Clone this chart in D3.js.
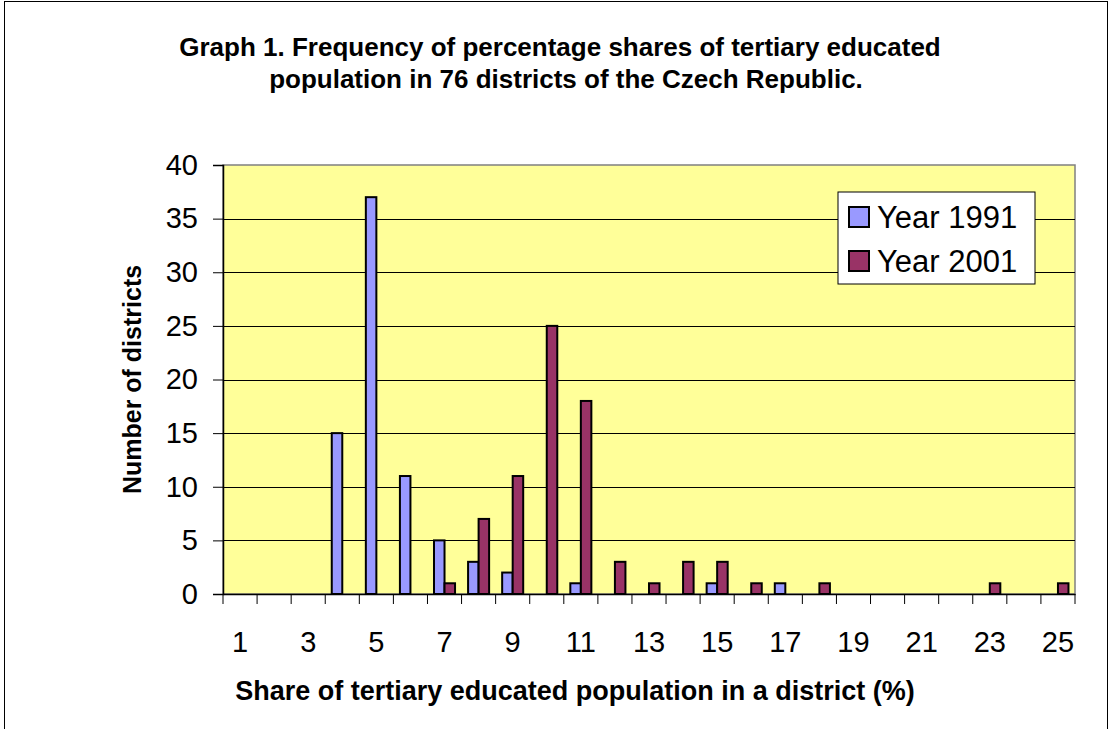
<!DOCTYPE html>
<meta charset="utf-8">
<style>
  body { margin: 0; background: #fff; }
  text { font-family: Arial, "Liberation Sans", sans-serif; }
</style>
<body>
<svg width="1113" height="729"></svg>
<script src="https://d3js.org/d3.v7.min.js"></script>
<script>

var shares = d3.range(1, 26);
var year1991 = [0,0,0,15,37,11,5,3,2,0,1,0,0,0,1,0,1,0,0,0,0,0,0,0,0];
var year2001 = [0,0,0,0,0,0,1,7,11,25,18,3,1,3,3,1,0,1,0,0,0,0,1,0,1];
var seriesNames = ["Year 1991", "Year 2001"];
var seriesColors = ["#9999ff", "#993366"];
var yTicks = [0,5,10,15,20,25,30,35,40];

var svg = d3.select("svg");

var margin = {left: 223, right: 1075, top: 165, bottom: 594};

// outer chart border
svg.append("rect")
    .attr("x", 4.5).attr("y", 1.5)
    .attr("width", 1103).attr("height", 740)
    .attr("fill", "none").attr("stroke", "#000").attr("stroke-width", 1);

var x = d3.scaleBand()
    .domain(shares)
    .range([margin.left, margin.right])
    .paddingInner(0).paddingOuter(0);

var inner = d3.scaleBand()
    .domain(seriesNames)
    .range([0, x.bandwidth()])
    .paddingOuter(0.62).paddingInner(0);

var y = d3.scaleLinear().domain([0, 40]).range([margin.bottom, margin.top]);

// plot area
svg.append("rect")
    .attr("x", margin.left).attr("y", margin.top)
    .attr("width", margin.right - margin.left).attr("height", margin.bottom - margin.top)
    .attr("fill", "#ffff99").attr("stroke", "#808080").attr("stroke-width", 1.5);

// gridlines
svg.append("g").selectAll("line")
  .data(yTicks.filter(d => d > 0 && d < 40))
  .enter().append("line")
    .attr("x1", margin.left).attr("x2", margin.right)
    .attr("y1", d => Math.round(y(d)) + 0.5).attr("y2", d => Math.round(y(d)) + 0.5)
    .attr("stroke", "#000").attr("stroke-width", 1);

// bars
var rows = shares.map((s, i) => ({share: s, values: [year1991[i], year2001[i]]}));

var groups = svg.append("g").selectAll("g")
  .data(rows)
  .enter().append("g")
    .attr("transform", d => "translate(" + x(d.share) + ",0)");

groups.selectAll("rect")
  .data(d => d.values.map((v, j) => ({name: seriesNames[j], value: v, color: seriesColors[j]})).filter(e => e.value > 0))
  .enter().append("rect")
    .attr("x", d => inner(d.name))
    .attr("width", inner.bandwidth())
    .attr("y", d => y(d.value))
    .attr("height", d => y(0) - y(d.value))
    .attr("fill", d => d.color)
    .attr("stroke", "#000").attr("stroke-width", 2);

// y axis
var yAxis = d3.axisLeft(y).tickValues(yTicks).tickSize(10).tickPadding(15);
var gy = svg.append("g")
    .attr("transform", "translate(" + margin.left + ",0)")
    .call(yAxis);
gy.select(".domain").attr("stroke", "#000").attr("stroke-width", 1.5);
gy.selectAll(".tick line").attr("stroke", "#000");
gy.selectAll("text").attr("font-size", 29).attr("fill", "#000");

// x axis: ticks at category boundaries, labels on odd categories
var xAxis = d3.axisBottom(x)
    .tickValues(shares)
    .tickSize(0).tickPadding(37)
    .tickFormat(d => d % 2 === 1 ? d : "");
var gx = svg.append("g")
    .attr("transform", "translate(0," + margin.bottom + ")")
    .call(xAxis);
gx.select(".domain").attr("stroke", "#000").attr("stroke-width", 1.5);
gx.selectAll("text").attr("font-size", 29).attr("fill", "#000");

svg.append("g").selectAll("line")
  .data(shares.concat([26]))
  .enter().append("line")
    .attr("x1", d => d === 26 ? margin.right : x(d))
    .attr("x2", d => d === 26 ? margin.right : x(d))
    .attr("y1", margin.bottom).attr("y2", margin.bottom + 10)
    .attr("stroke", "#000").attr("stroke-width", 1);

// titles
var title = svg.append("text")
    .attr("text-anchor", "middle")
    .attr("font-weight", "bold")
    .attr("font-size", 26);
title.append("tspan").attr("x", 560).attr("y", 56)
    .text("Graph 1. Frequency of percentage shares of tertiary educated");
title.append("tspan").attr("x", 566).attr("y", 88)
    .text("population in 76 districts of the Czech Republic.");

svg.append("text")
    .attr("x", 575).attr("y", 700)
    .attr("text-anchor", "middle")
    .attr("font-weight", "bold").attr("font-size", 27)
    .text("Share of tertiary educated population in a district (%)");

svg.append("text")
    .attr("transform", "translate(141," + ((margin.top + margin.bottom) / 2) + ") rotate(-90)")
    .attr("text-anchor", "middle")
    .attr("font-weight", "bold").attr("font-size", 25)
    .text("Number of districts");

// legend
var legend = svg.append("g").attr("transform", "translate(838,192)");
legend.append("rect")
    .attr("width", 197).attr("height", 92)
    .attr("fill", "#fff").attr("stroke", "#000").attr("stroke-width", 1);

var items = legend.selectAll("g.item")
  .data(seriesNames)
  .enter().append("g")
    .attr("transform", (d, i) => "translate(11," + (15 + i * 44) + ")");
items.append("rect")
    .attr("width", 20).attr("height", 20)
    .attr("fill", (d, i) => seriesColors[i])
    .attr("stroke", "#000").attr("stroke-width", 2);
items.append("text")
    .attr("x", 28).attr("y", 21)
    .attr("font-size", 31)
    .text(d => d);

</script>
</body>
